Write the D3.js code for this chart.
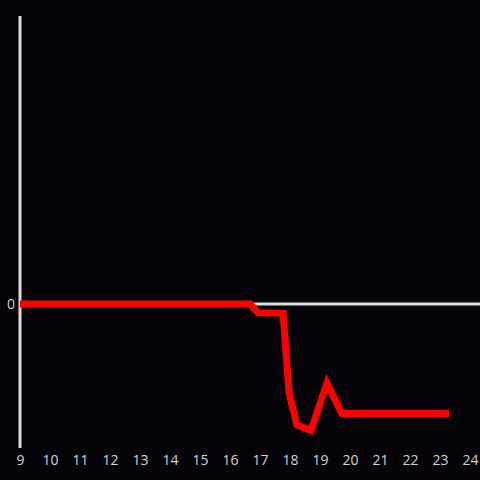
<!DOCTYPE html>
<html>
<head>
<meta charset="utf-8">
<script src="https://cdn.jsdelivr.net/npm/d3@7"></script>
<style>
  html, body { margin: 0; padding: 0; background: #050308; }
  svg { display: block; }
</style>
</head>
<body>
<script>
// hour of day and value
var hours = [9, 16.67, 16.93, 17.77, 17.97, 18.23, 18.7, 19.23, 19.73, 23.3];
var values = [0, 0, -0.06, -0.065, -0.62, -0.84, -0.88, -0.55, -0.76, -0.76];
var xTicks = [9, 10, 11, 12, 13, 14, 15, 16, 17, 18, 19, 20, 21, 22, 23, 24];
var yTicks = [0];

var width = 480, height = 480;
var margin = {left: 20, right: 10, top: 16, bottom: 32};

var svg = d3.select("body")
            .append("svg")
            .attr("width", width)
            .attr("height", height);

var xScale = d3.scaleLinear()
               .domain([9, 24])
               .range([margin.left, width - margin.right]);

var yScale = d3.scaleLinear()
               .domain([-1, 2])
               .range([height - margin.bottom, margin.top]);

function styleTicks(g) {
  g.select(".domain").remove();
  g.attr("font-family", "'Open Sans', sans-serif")
   .attr("font-size", 14);
  g.selectAll(".tick text")
   .style("font-family", "'Open Sans', sans-serif")
   .style("font-size", "14px")
   .attr("fill", "#d4d4d4");
}

// x tick labels along the bottom
var xAxis = d3.axisBottom(xScale)
              .tickValues(xTicks)
              .tickFormat(d3.format("d"))
              .tickSize(0)
              .tickPadding(7);

svg.append("g")
   .attr("transform", "translate(0," + (height - margin.bottom) + ")")
   .call(xAxis)
   .call(styleTicks);

// zero line
svg.append("line")
   .attr("x1", xScale(9))
   .attr("x2", width)
   .attr("y1", yScale(0))
   .attr("y2", yScale(0))
   .attr("stroke", "#dcdcdc")
   .attr("stroke-width", 3);

// y axis
var yAxis = d3.axisLeft(yScale)
              .tickValues(yTicks)
              .tickFormat(d3.format("d"))
              .tickSize(0)
              .tickPadding(5);

svg.append("g")
   .attr("transform", "translate(" + margin.left + ",0)")
   .call(yAxis)
   .call(styleTicks);

svg.append("line")
   .attr("x1", margin.left)
   .attr("x2", margin.left)
   .attr("y1", margin.top)
   .attr("y2", height - margin.bottom)
   .attr("stroke", "#dcdcdc")
   .attr("stroke-width", 3);

// the red line
var points = hours.map(function(h, i) { return [h, values[i]]; });

var line = d3.line()
             .x(function(d) { return xScale(d[0]); })
             .y(function(d) { return yScale(d[1]); });

svg.append("path")
   .datum(points)
   .attr("d", line)
   .attr("fill", "none")
   .attr("stroke", "#ff0000")
   .attr("stroke-width", 7);
</script>
</body>
</html>
